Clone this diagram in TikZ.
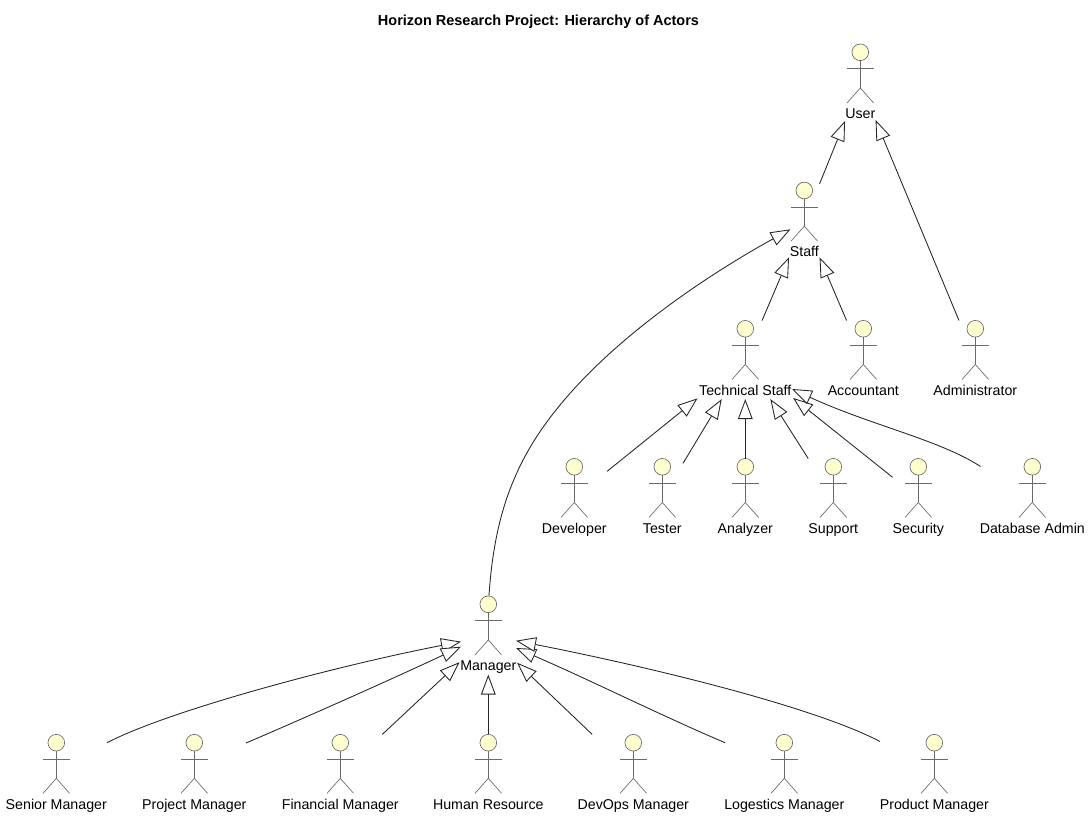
\documentclass[tikz,border=0pt]{standalone}
\usepackage{fontspec}
\setmainfont{Liberation Sans}
\usetikzlibrary{arrows.meta,calc}
\definecolor{headfill}{HTML}{FEFECE}
\definecolor{figline}{HTML}{6A6A6A}
\tikzset{
  x=0.75pt,y=-0.75pt,
  headnode/.style={circle,draw=figline,fill=headfill,line width=0.5pt,minimum size=12.5pt,inner sep=0pt},
  limb/.style={draw=figline,line width=0.5pt},
  lbl/.style={font=\fontsize{10.66}{12}\selectfont,inner sep=0pt,text=black},
  box/.style={inner sep=0pt,minimum height=58.5pt},
  gen/.style={draw=black!85,line width=0.65pt,-{Triangle[open,length=15pt,width=11pt,fill=white]}},
}
% name, x, head y, label, label width in px
\newcommand{\actorfig}[5]{%
  \node[headnode] (#1h) at (#2,#3) {};
  \draw[limb] (#1h.south) -- ++(0,27) coordinate (#1hip);
  \draw[limb] ($(#1h.south)+(-13.3,7.8)$) -- ($(#1h.south)+(13.3,7.8)$);
  \draw[limb] ($(#1hip)+(-13.3,15)$) -- (#1hip) -- ($(#1hip)+(13.3,15)$);
  \node[lbl,anchor=base] (#1l) at ($(#2,#3)+(0,66.5)$) {#4};
  \node[box,minimum width=#5*0.75pt] (#1) at ($(#2,#3)+(0,31)$) {};
}
\begin{document}
\begin{tikzpicture}
\useasboundingbox (0,0) rectangle (1089,816);
\node[font=\bfseries\fontsize{10.87}{12}\selectfont,inner sep=0pt,anchor=base] (title) at (538.5,25.5) {Horizon Research Project: Hierarchy of Actors};
\actorfig{user}{860.3}{52.3}{User}{30}
\actorfig{staff}{804.3}{190.5}{Staff}{30}
\actorfig{tech}{745.3}{328.8}{Technical Staff}{95}
\actorfig{acct}{863.3}{328.8}{Accountant}{72}
\actorfig{admin}{975.3}{328.8}{Administrator}{84}
\actorfig{dev}{574.3}{466.8}{Developer}{65}
\actorfig{tester}{662.3}{466.8}{Tester}{41}
\actorfig{analyzer}{745.3}{466.8}{Analyzer}{54}
\actorfig{support}{833.3}{466.8}{Support}{50}
\actorfig{security}{918.3}{466.8}{Security}{51}
\actorfig{dba}{1032.3}{466.8}{Database Admin}{104}
\actorfig{mgr}{488.3}{604.3}{Manager}{57}
\actorfig{senior}{56.3}{742.7}{Senior Manager}{101}
\actorfig{project}{194.3}{742.7}{Project Manager}{104}
\actorfig{fin}{340.3}{742.7}{Financial Manager}{117}
\actorfig{hr}{488.3}{742.7}{Human Resource}{109}
\actorfig{devops}{633.3}{742.7}{DevOps Manager}{111}
\actorfig{logi}{784.3}{742.7}{Logestics Manager}{120}
\actorfig{prod}{934.3}{742.7}{Product Manager}{109}
\draw[gen] (staff) -- (user);
\draw[gen] (admin) -- (user);
\draw[gen] (tech) -- (staff);
\draw[gen] (acct) -- (staff);
\draw[gen] (dev) -- (tech);
\draw[gen] (tester) -- (tech);
\draw[gen] (analyzer) -- (tech);
\draw[gen] (support) -- (tech);
\draw[gen] (security) -- (tech);
\draw[gen] (fin) -- (mgr);
\draw[gen] (hr) -- (mgr);
\draw[gen] (devops) -- (mgr);
\coordinate (c1a) at (489,595.5); \coordinate (c1b) at (790.5,229.3);
\draw[gen] (c1a) .. controls (494,520) and (512,465) .. (556,410) .. controls (618,332) and (720,268) .. (c1b);
\coordinate (c2a) at (980.5,466.5); \coordinate (c2b) at (792,389);
\draw[gen] (c2a) .. controls (940,440) and (870,425) .. (c2b);
\coordinate (c3a) at (107,742.7); \coordinate (c3b) at (461,641.7);
\draw[gen] (c3a) .. controls (170,710) and (340,665) .. (c3b);
\coordinate (c4a) at (246,743); \coordinate (c4b) at (461,646.7);
\draw[gen] (c4a) .. controls (300,720) and (390,680) .. (c4b);
\coordinate (c5a) at (725,742.7); \coordinate (c5b) at (516,648);
\draw[gen] (c5a) .. controls (660,715) and (590,680) .. (c5b);
\coordinate (c6a) at (880,741.5); \coordinate (c6b) at (516,640.7);
\draw[gen] (c6a) .. controls (810,705) and (640,665) .. (c6b);
\end{tikzpicture}
\end{document}
